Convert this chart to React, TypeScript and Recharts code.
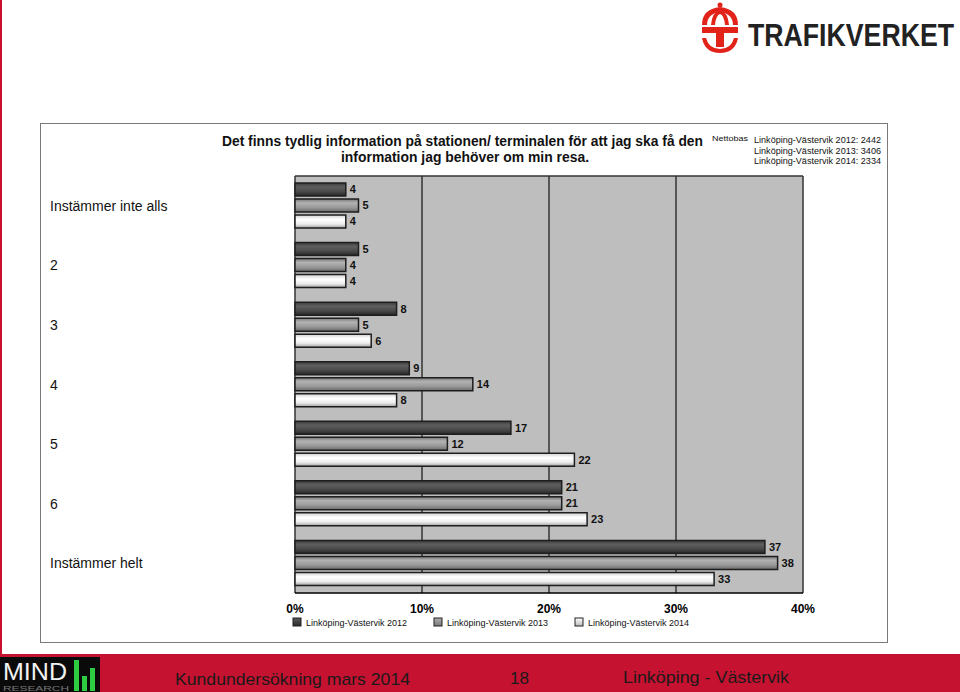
import { BarChart, Bar, XAxis, YAxis, CartesianGrid, LabelList } from 'recharts';

const categories = ['Instämmer inte alls', '2', '3', '4', '5', '6', 'Instämmer helt'];
const values2012 = [4, 5, 8, 9, 17, 21, 37];
const values2013 = [5, 4, 5, 14, 12, 21, 38];
const values2014 = [4, 4, 6, 8, 22, 23, 33];
const xTicks = [0, 10, 20, 30, 40];

const seriesNames = ['Linköping-Västervik 2012', 'Linköping-Västervik 2013', 'Linköping-Västervik 2014'];
const nettobas = ['Linköping-Västervik 2012: 2442', 'Linköping-Västervik 2013: 3406', 'Linköping-Västervik 2014: 2334'];

const data = categories.map((c, i) => ({
  cat: c,
  y2012: values2012[i],
  y2013: values2013[i],
  y2014: values2014[i],
}));

const FONT = 'Liberation Sans, Arial, sans-serif';

function CategoryTick(props: any) {
  const { y, payload } = props;
  return (
    <text x={10} y={y} dy={5} fontSize={14} fill="#111" fontFamily={FONT} textAnchor="start">
      {payload.value}
    </text>
  );
}

function Decorations() {
  return (
    <svg width={960} height={692} style={{ position: 'absolute', left: 0, top: 0 }} fontFamily={FONT}>
      <defs>
        <linearGradient id="lg2012" x1="0" y1="0" x2="0" y2="1">
          <stop offset="0" stopColor="#5a5a5a" />
          <stop offset="1" stopColor="#2a2a2a" />
        </linearGradient>
        <linearGradient id="lg2013" x1="0" y1="0" x2="0" y2="1">
          <stop offset="0" stopColor="#b0b0b0" />
          <stop offset="1" stopColor="#777" />
        </linearGradient>
        <linearGradient id="lg2014" x1="0" y1="0" x2="0" y2="1">
          <stop offset="0" stopColor="#fff" />
          <stop offset="1" stopColor="#bbb" />
        </linearGradient>
      </defs>
      {/* red left edge */}
      <rect x={0} y={0} width={2} height={655} fill="#c8102e" />

      {/* logo */}
      <g fill="#e2231a">
        <path d="M702 25 Q702 9 720 7 Q738 9 738 25 L733 25 Q733 14 720 12 Q707 14 707 25 Z" />
        <path d="M711 25 Q712 12 720 10 Q728 12 729 25 L725 25 Q724 15 720 14 Q716 15 715 25 Z" />
        <circle cx={720} cy={5} r={2.5} />
        <rect x={702} y={27} width={36} height={6} />
        <rect x={716} y={27} width={8} height={20} />
        <path d="M702 38 Q705 53 720 53 Q735 53 738 38 L734 38 Q731 49 720 49 Q709 49 706 38 Z" />
      </g>
      <g transform="translate(0,46) scale(1,1.18) translate(0,-46)">
        <text x={748} y={46} fontSize={26} fontWeight="bold" fill="#222" textLength={206} lengthAdjust="spacingAndGlyphs">
          TRAFIKVERKET
        </text>
      </g>

      {/* frame */}
      <rect x={40.5} y={123.5} width={847} height={519} fill="#fff" stroke="#7a7a7a" strokeWidth={1} />

      {/* title */}
      <text x={222} y={146} fontSize={15} fontWeight="bold" fill="#111" textLength={481} lengthAdjust="spacingAndGlyphs">
        Det finns tydlig information på stationen/ terminalen för att jag ska få den
      </text>
      <text x={341} y={162} fontSize={15} fontWeight="bold" fill="#111" textLength={248} lengthAdjust="spacingAndGlyphs">
        information jag behöver om min resa.
      </text>
      <text x={712} y={141} fontSize={8} fill="#111" textLength={36} lengthAdjust="spacingAndGlyphs">
        Nettobas
      </text>
      {nettobas.map((t, i) => (
        <text key={t} x={754} y={143 + i * 10.5} fontSize={9} fill="#111" textLength={127} lengthAdjust="spacingAndGlyphs">
          {t}
        </text>
      ))}

      {/* legend */}
      {seriesNames.map((n, i) => (
        <g key={n}>
          <rect x={293 + i * 141} y={618} width={8} height={8} fill={['url(#lg2012)', 'url(#lg2013)', 'url(#lg2014)'][i]} stroke="#222" strokeWidth={1} />
          <text x={306 + i * 141} y={626} fontSize={9} fill="#111" textLength={101} lengthAdjust="spacingAndGlyphs">
            {n}
          </text>
        </g>
      ))}

      {/* footer */}
      <rect x={0} y={654} width={960} height={38} fill="#c41230" />
      <rect x={0} y={657} width={100} height={35} fill="#0a0a0a" />
      <text x={3} y={680} fontSize={24} fill="#f2f2f2" textLength={64} lengthAdjust="spacingAndGlyphs">MIND</text>
      <text x={3} y={691} fontSize={8} fill="#777" textLength={66} lengthAdjust="spacingAndGlyphs">RESEARCH</text>
      <rect x={74} y={660} width={5} height={31} fill="#2ecc40" />
      <rect x={82} y={676} width={5} height={15} fill="#2ecc40" />
      <rect x={90} y={668} width={5} height={23} fill="#2ecc40" />
      <text x={175} y={685} fontSize={17} fill="#1a1a1a" textLength={235} lengthAdjust="spacingAndGlyphs">
        Kundundersökning mars 2014
      </text>
      <text x={510} y={684} fontSize={17} fill="#1a1a1a">18</text>
      <text x={623} y={683} fontSize={17} fill="#1a1a1a" textLength={166} lengthAdjust="spacingAndGlyphs">
        Linköping - Västervik
      </text>
    </svg>
  );
}

export default function App() {
  return (
    <div style={{ position: 'absolute', left: 0, top: 0, width: 960, height: 692, background: '#fff', overflow: 'hidden' }}>
      <Decorations />
      <div style={{ position: 'absolute', left: 40, top: 123 }}>
        <BarChart
          width={848}
          height={520}
          data={data}
          layout="vertical"
          margin={{ top: 53, right: 85, bottom: 20, left: 10 }}
          barSize={13}
          barGap={3}
        >
          <defs>
            <linearGradient id="g2012" x1="0" y1="0" x2="0" y2="1">
              <stop offset="0" stopColor="#3a3a3a" />
              <stop offset="0.3" stopColor="#5e5e5e" />
              <stop offset="0.65" stopColor="#4a4a4a" />
              <stop offset="1" stopColor="#262626" />
            </linearGradient>
            <linearGradient id="g2013" x1="0" y1="0" x2="0" y2="1">
              <stop offset="0" stopColor="#777" />
              <stop offset="0.3" stopColor="#b2b2b2" />
              <stop offset="0.65" stopColor="#9a9a9a" />
              <stop offset="1" stopColor="#6a6a6a" />
            </linearGradient>
            <linearGradient id="g2014" x1="0" y1="0" x2="0" y2="1">
              <stop offset="0" stopColor="#d0d0d0" />
              <stop offset="0.35" stopColor="#ffffff" />
              <stop offset="0.7" stopColor="#ececec" />
              <stop offset="1" stopColor="#a0a0a0" />
            </linearGradient>
          </defs>
          <CartesianGrid
            fill="#bebebe"
            fillOpacity={1}
            stroke="#333"
            strokeWidth={1.5}
            horizontalCoordinatesGenerator={({ offset }: any) => [offset.top]}
          />
          <XAxis
            type="number"
            domain={[0, 40]}
            ticks={xTicks}
            tickFormatter={(v: number) => `${v}%`}
            tick={{ fill: '#000', fontSize: 12, fontWeight: 'bold', fontFamily: FONT }}
            tickLine={false}
            tickMargin={5}
            axisLine={{ stroke: '#000', strokeWidth: 1.5 }}
            height={30}
          />
          <YAxis type="category" dataKey="cat" width={245} axisLine={false} tickLine={false} tick={<CategoryTick />} />
          <Bar dataKey="y2012" name={seriesNames[0]} fill="url(#g2012)" stroke="#1e1e1e" strokeWidth={1.5} isAnimationActive={false}>
            <LabelList dataKey="y2012" position="right" offset={4} fontSize={11} fontWeight="bold" fill="#111" fontFamily={FONT} />
          </Bar>
          <Bar dataKey="y2013" name={seriesNames[1]} fill="url(#g2013)" stroke="#1e1e1e" strokeWidth={1.5} isAnimationActive={false}>
            <LabelList dataKey="y2013" position="right" offset={4} fontSize={11} fontWeight="bold" fill="#111" fontFamily={FONT} />
          </Bar>
          <Bar dataKey="y2014" name={seriesNames[2]} fill="url(#g2014)" stroke="#1e1e1e" strokeWidth={1.5} isAnimationActive={false}>
            <LabelList dataKey="y2014" position="right" offset={4} fontSize={11} fontWeight="bold" fill="#111" fontFamily={FONT} />
          </Bar>
        </BarChart>
      </div>
    </div>
  );
}
